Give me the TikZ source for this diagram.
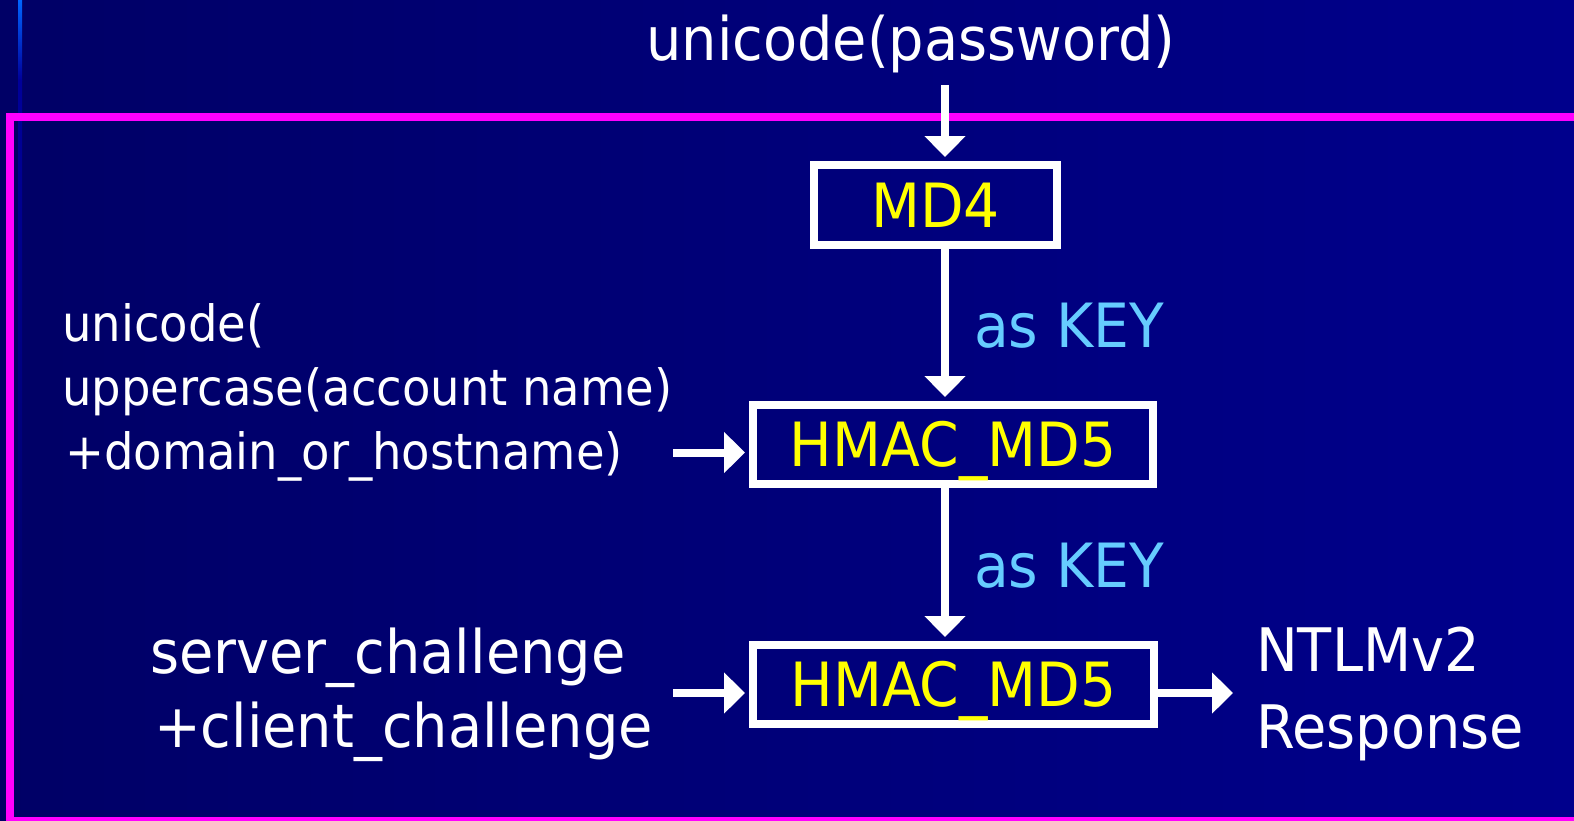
\documentclass[tikz,border=0pt]{standalone}
\usepackage{fontspec}
\setmainfont{DejaVu Sans}[FakeStretch=0.93]
\usetikzlibrary{arrows.meta}
\definecolor{bgleft}{HTML}{000066}
\definecolor{bgright}{HTML}{00008C}
\definecolor{framepink}{HTML}{FF00FF}
\definecolor{keyblue}{HTML}{66CCFF}
\definecolor{railtop}{HTML}{0066FF}
\definecolor{raildark}{HTML}{000099}
\definecolor{boxtext}{HTML}{FFFF00}

\tikzset{
  hashbox/.style={draw=white, line width=8pt, inner sep=0pt, text=boxtext,
    font=\fontsize{61}{61}\selectfont, text height=44pt, text depth=0pt},
  label/.style={text=white, inner sep=0pt, anchor=base west},
  keylabel/.style={text=keyblue, inner sep=0pt, anchor=base west,
    font=\fontsize{61}{61}\selectfont},
  flow/.style={draw=white, line width=8pt, line cap=butt,
    -{Triangle[width=40pt,length=21pt]}},
  tobox/.style={flow, shorten >=4pt},
}

\begin{document}
\begin{tikzpicture}[x=1pt,y=-1pt]
  % slide background and page frame
  \shade[left color=bgleft, right color=bgright] (0,0) rectangle (1574,820);
  \useasboundingbox (0,0) rectangle (1574,820);
  \shade[top color=railtop, bottom color=raildark] (18,0) rectangle (22,80);
  \shade[top color=raildark, bottom color=bgleft] (18,80) rectangle (22,700);
  \draw[framepink, line width=8pt] (10,117) rectangle (1590,821);

  % hash stages
  \node[hashbox, minimum width=243pt, minimum height=80pt] (md4) at (935.5,205) {MD4};
  \node[hashbox, minimum width=400pt, minimum height=79pt] (hm1) at (953,444.5) {HMAC\_MD5};
  \node[hashbox, minimum width=401pt, minimum height=79pt] (hm2) at (953.5,684.5) {HMAC\_MD5};

  % inputs and output
  \node[label, anchor=base, font=\fontsize{60}{60}\selectfont] (pw) at (911,60) {unicode(password)};

  \node[label, font=\fontsize{50}{50}\selectfont] (acct1) at (62,341) {unicode(};
  \node[label, font=\fontsize{50}{50}\selectfont] (acct2) at (62,405) {uppercase(account name)};
  \node[label, font=\fontsize{50}{50}\selectfont] (acct3) at (65,469) {+domain\_or\_hostname)};

  \node[label, font=\fontsize{60}{60}\selectfont] (chal1) at (150,673) {server\_challenge};
  \node[label, font=\fontsize{60}{60}\selectfont] (chal2) at (154,747) {+client\_challenge};

  \node[label, font=\fontsize{60}{60}\selectfont] (resp1) at (1256,671) {NTLMv2};
  \node[label, font=\fontsize{60}{60}\selectfont] (resp2) at (1256,748) {Response};

  \node[keylabel] (key1) at (974,347) {as KEY};
  \node[keylabel] (key2) at (974,587) {as KEY};

  % connectors
  \coordinate (pwfoot) at (945,85);
  \coordinate (in1) at (673,452.5);
  \coordinate (in2) at (673,693);
  \coordinate (out) at (1233,693);

  \draw[tobox] (pwfoot) -- (md4.north -| pwfoot);
  \draw[tobox] (md4.south -| pwfoot) -- (hm1.north -| pwfoot);
  \draw[tobox] (hm1.south -| pwfoot) -- (hm2.north -| pwfoot);
  \draw[tobox] (in1) -- (in1 -| hm1.west);
  \draw[tobox] (in2) -- (in2 -| hm2.west);
  \draw[flow] (out -| hm2.east) -- (out);
\end{tikzpicture}
\end{document}
